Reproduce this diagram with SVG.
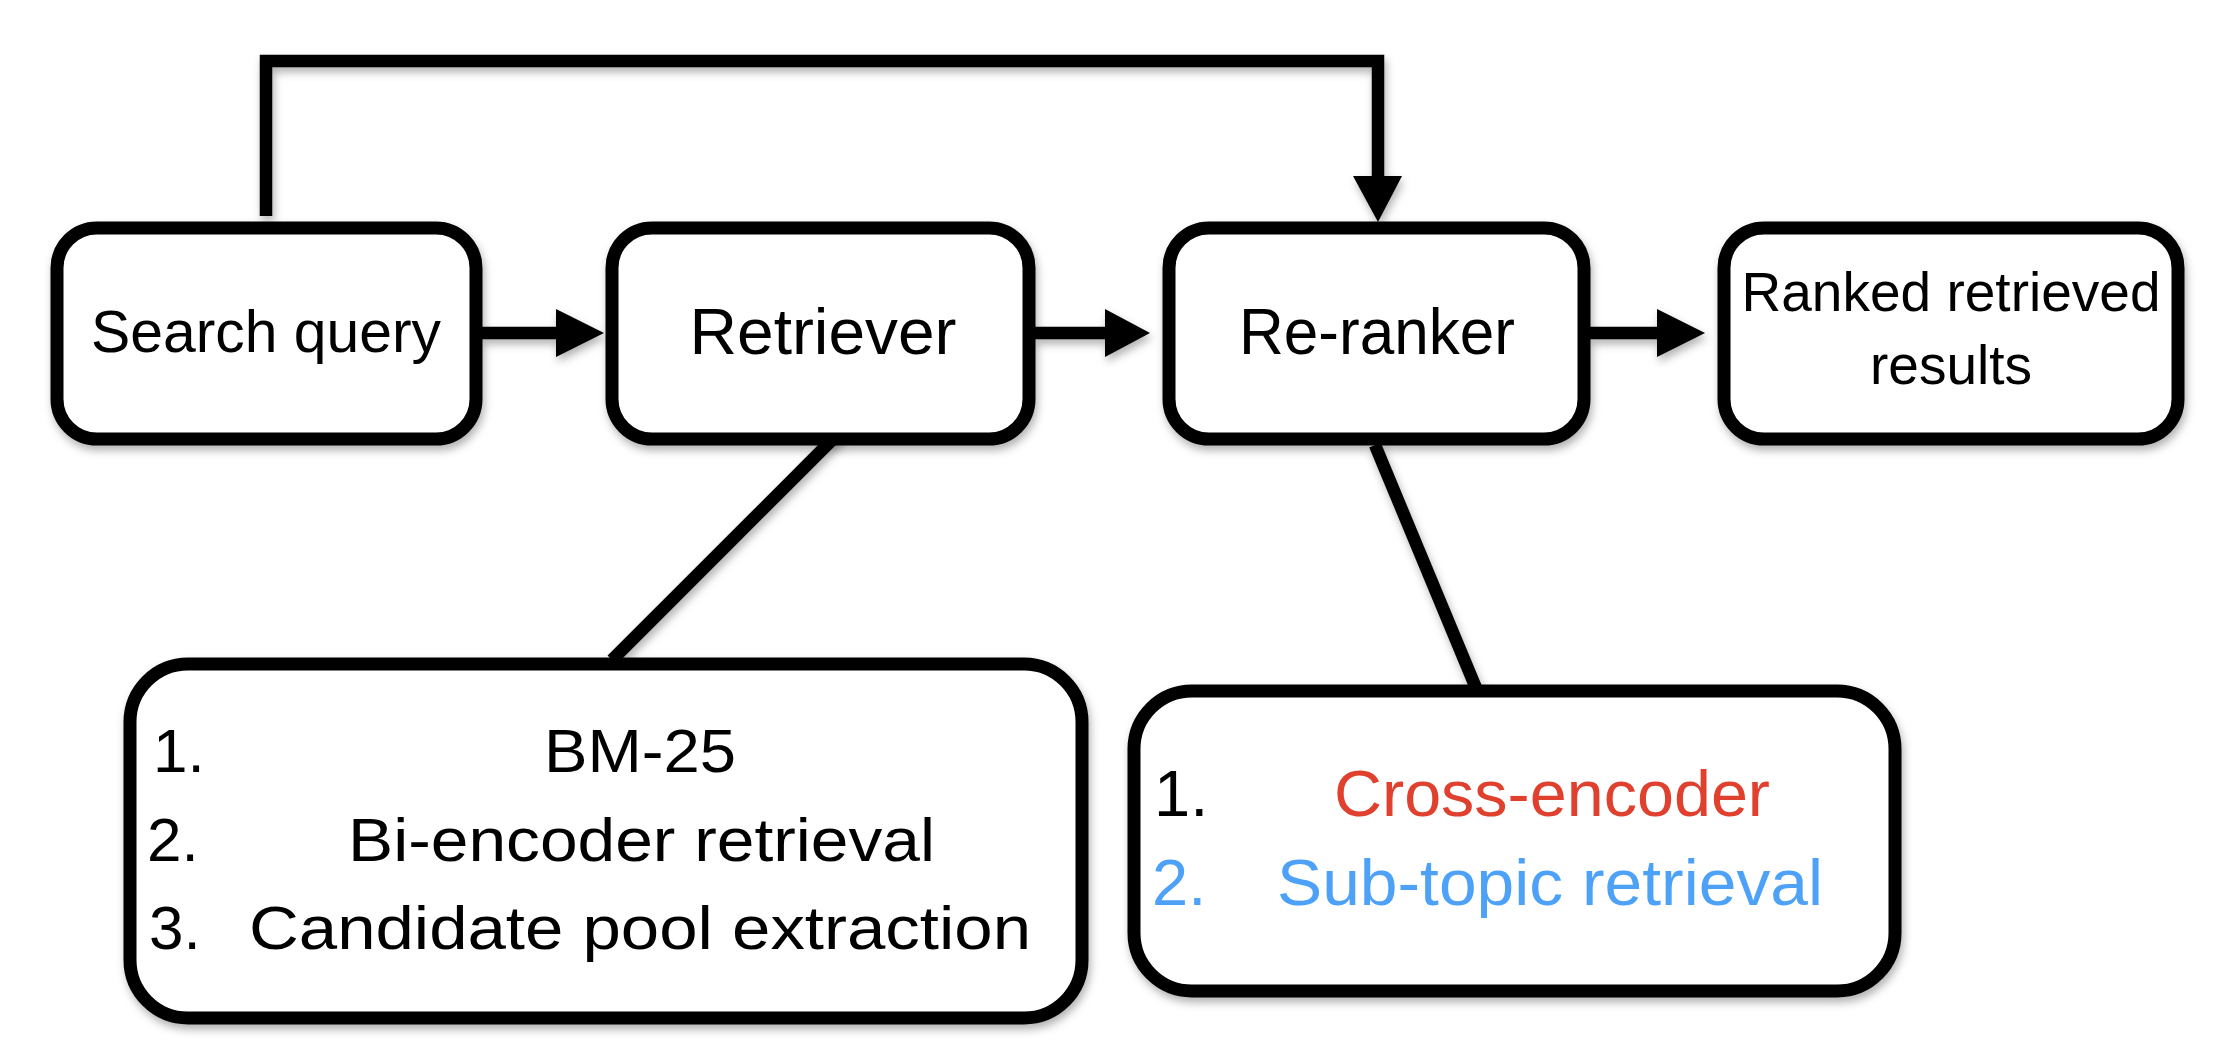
<svg xmlns="http://www.w3.org/2000/svg" width="2230" height="1061" viewBox="0 0 2230 1061">
<style>
.box{fill:#fff;stroke:#000;stroke-width:13}
.ln{fill:none;stroke:#000;stroke-width:12.5}
.hd{fill:#000}
text{font-family:"Liberation Sans",Arial,sans-serif;fill:#000}
.red{fill:#E0402E}
.blue{fill:#4DA2F7}
</style>
<defs>
<filter id="sh" x="-10%" y="-10%" width="120%" height="130%">
<feDropShadow dx="2" dy="5" stdDeviation="4" flood-color="#000" flood-opacity="0.3"/>
</filter>
</defs>
<rect width="2230" height="1061" fill="#fff"/>
<g id="connectors" filter="url(#sh)">
<polyline class="ln" points="266,216 266,61 1378,61 1378,180"/>
<polygon class="hd" points="1353,176 1378,222 1402,176"/>
<line class="ln" x1="482" y1="333" x2="560" y2="333"/>
<polygon class="hd" points="556,309 604,333 556,357"/>
<line class="ln" x1="1035" y1="333" x2="1110" y2="333"/>
<polygon class="hd" points="1105,309 1150,333 1105,357"/>
<line class="ln" x1="1590" y1="333" x2="1662" y2="333"/>
<polygon class="hd" points="1657,309 1705,333 1657,357"/>
<line class="ln" x1="838" y1="434" x2="612" y2="660"/>
<line class="ln" x1="1375" y1="445" x2="1476" y2="688"/>
</g>
<g id="search-query">
<rect class="box" filter="url(#sh)" x="57" y="228" width="419" height="211" rx="40"/>
<text x="266" y="352" font-size="60" text-anchor="middle" textLength="350" lengthAdjust="spacingAndGlyphs">Search query</text>
</g>
<g id="retriever">
<rect class="box" filter="url(#sh)" x="612" y="228" width="417" height="211" rx="40"/>
<text x="823" y="354" font-size="64" text-anchor="middle" textLength="267" lengthAdjust="spacingAndGlyphs">Retriever</text>
</g>
<g id="re-ranker">
<rect class="box" filter="url(#sh)" x="1169" y="228" width="415" height="211" rx="40"/>
<text x="1377" y="354" font-size="64" text-anchor="middle" textLength="276" lengthAdjust="spacingAndGlyphs">Re-ranker</text>
</g>
<g id="ranked-results">
<rect class="box" filter="url(#sh)" x="1724" y="228" width="454" height="211" rx="40"/>
<text x="1951" y="311" font-size="55" text-anchor="middle" textLength="419" lengthAdjust="spacingAndGlyphs">Ranked retrieved</text>
<text x="1951" y="384" font-size="55" text-anchor="middle">results</text>
</g>
<g id="retriever-methods">
<rect class="box" filter="url(#sh)" x="130" y="664" width="952" height="354" rx="58"/>
<text x="153" y="772" font-size="62">1.</text>
<text x="544" y="772" font-size="62" textLength="192" lengthAdjust="spacingAndGlyphs">BM-25</text>
<text x="147" y="861" font-size="62">2.</text>
<text x="348" y="861" font-size="62" textLength="587" lengthAdjust="spacingAndGlyphs">Bi-encoder retrieval</text>
<text x="149" y="949" font-size="62">3.</text>
<text x="249" y="949" font-size="62" textLength="782" lengthAdjust="spacingAndGlyphs">Candidate pool extraction</text>
</g>
<g id="reranker-methods">
<rect class="box" filter="url(#sh)" x="1134" y="691" width="761" height="300" rx="58"/>
<text x="1154" y="816" font-size="65">1.</text>
<text class="red" x="1334" y="816" font-size="65" textLength="436" lengthAdjust="spacingAndGlyphs">Cross-encoder</text>
<text class="blue" x="1152" y="905" font-size="65">2.</text>
<text class="blue" x="1277" y="905" font-size="65" textLength="546" lengthAdjust="spacingAndGlyphs">Sub-topic retrieval</text>
</g>
</svg>
